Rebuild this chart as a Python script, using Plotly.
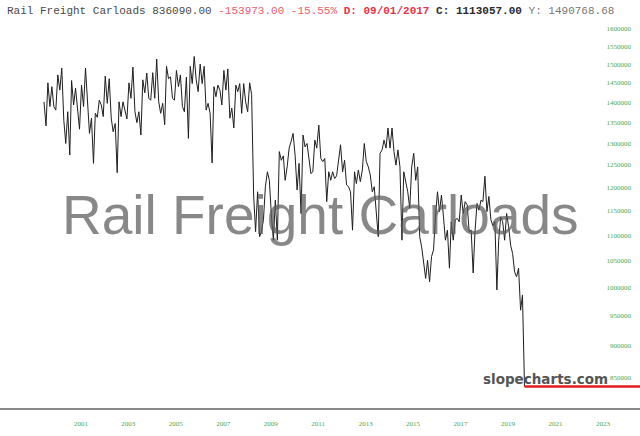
import pandas as pd
import plotly.graph_objects as go

# Monthly rail freight carloads (thousands), Jan 2000 .. Apr 2020
carloads_2000_2008 = [
    1401, 1341, 1450, 1389, 1440, 1389, 1380, 1471, 1431, 1489, 1355, 1299,
    1376, 1272, 1456, 1393, 1436, 1376, 1333, 1444, 1389, 1489, 1389, 1323,
    1360, 1253, 1372, 1362, 1405, 1393, 1364, 1468, 1397, 1461, 1360, 1327,
    1347, 1232, 1401, 1364, 1401, 1376, 1358, 1450, 1410, 1492, 1376, 1349,
    1376, 1319, 1458, 1424, 1476, 1410, 1405, 1477, 1410, 1514, 1401, 1372,
    1397, 1344, 1494, 1461, 1466, 1410, 1405, 1483, 1440, 1471, 1389, 1376,
    1465, 1311, 1494, 1448, 1521, 1458, 1427, 1500, 1448, 1494, 1380, 1397,
    1372, 1254, 1440, 1414, 1444, 1431, 1393, 1483, 1431, 1487, 1360, 1385,
    1336, 1444, 1427, 1448, 1372, 1448, 1401, 1376, 1450, 1420,
]
carloads_2008_2015 = [
    1183, 1107, 1190, 1097, 1107, 1131, 1201, 1234, 1215, 1141,
    1090, 1172, 1090, 1280, 1260, 1270, 1215, 1245, 1288, 1304,
    1323, 1272, 1194, 1253, 1144, 1319, 1291, 1299, 1262, 1230,
    1234, 1307, 1288, 1343, 1264, 1257, 1264, 1169, 1234, 1215,
    1234, 1219, 1225, 1260, 1296, 1234, 1260, 1205, 1201, 1190, 1110,
    1234, 1208, 1238, 1212, 1238, 1299, 1257, 1245, 1227, 1190,
    1201, 1150, 1097, 1276, 1284, 1307, 1288, 1336, 1288, 1336,
    1280, 1249, 1284, 1245, 1090, 1234, 1208, 1190, 1155, 1245,
    1276, 1215, 1245, 1097, 1077, 1040,
]
carloads_2015_2020 = [
    1017, 1051, 1011, 1058, 1071, 1137, 1190, 1148, 1183, 1137,
    1090, 1110, 1036, 1127, 1090, 1131, 1134, 1127, 1183, 1144,
    1169, 1162, 1107, 1110, 1027, 1107, 1165, 1151, 1172, 1169,
    1224, 1148, 1180, 1131, 1119, 1127, 996, 1090, 1137, 1127,
    1090, 1144, 1117, 1080, 1064, 1029, 1020, 1036, 960, 987,
    836.09,
]
values = [v * 1000 for v in carloads_2000_2008 + carloads_2008_2015 + carloads_2015_2020]
dates = pd.date_range("2000-01-01", periods=len(values), freq="MS")

y_tick_vals = [850000, 900000, 950000, 1000000, 1050000, 1100000, 1150000, 1200000,
               1250000, 1300000, 1350000, 1400000, 1450000, 1500000, 1550000, 1600000]
y_tick_text = [str(v) for v in y_tick_vals]
x_tick_years = [2001, 2003, 2005, 2007, 2009, 2011, 2013, 2015, 2017, 2019, 2021, 2023]
x_tick_vals = [f"{y}-07-22" for y in x_tick_years]
x_tick_text = [str(y) for y in x_tick_years]

x_range = ["1998-02-23", "2025-02-12"]
y_range = [5.905238, 6.210870]

title_html = (
    '<span style="color:#4a4a4a">Rail Freight Carloads 836090.00 </span>'
    '<span style="color:#ec5c70">-153973.00 -15.55% </span>'
    '<span style="color:#e3334c"><b>D: 09/01/2017</b> </span>'
    '<span style="color:#2a2a2a"><b>C: 1113057.00</b> </span>'
    '<span style="color:#777777">Y: 1490768.68</span>'
)

fig = go.Figure()
fig.add_trace(go.Scatter(
    x=dates, y=values, mode="lines",
    line=dict(color="#1e1e1e", width=1), hoverinfo="skip", showlegend=False,
))
fig.add_trace(go.Scatter(
    x=[dates[-1], x_range[1]], y=[values[-1], values[-1]], mode="lines",
    line=dict(color="#e11d1d", width=2.5), hoverinfo="skip", showlegend=False,
))

fig.update_layout(
    width=640, height=436,
    margin=dict(l=0, r=0, t=20, b=28),
    paper_bgcolor="white", plot_bgcolor="white",
    title=dict(text=title_html, x=7 / 640, xanchor="left", xref="container",
               y=1 - 10 / 436, yanchor="middle", yref="container",
               font=dict(family="Liberation Mono", size=11)),
    xaxis=dict(type="date", range=x_range, showgrid=False, zeroline=False,
               showline=True, linecolor="#8a8a8a", linewidth=2,
               tickmode="array", tickvals=x_tick_vals, ticktext=x_tick_text,
               ticks="", ticklabelstandoff=8,
               tickfont=dict(family="Liberation Serif", size=7, color="#4fa64f")),
    yaxis=dict(type="log", range=y_range, side="right", showgrid=False,
               zeroline=False, showline=False,
               tickmode="array", tickvals=y_tick_vals, ticktext=y_tick_text,
               ticks="", ticklabelposition="inside", ticklabelstandoff=6,
               tickfont=dict(family="Liberation Serif", size=7, color="#4fa64f")),
    annotations=[
        dict(text="Rail Freight Carloads", x=320 / 640, y=(408 - 215) / 388,
             xref="paper", yref="paper", showarrow=False, xanchor="center",
             yanchor="middle",
             font=dict(family="Liberation Sans", size=55, color="rgba(90,90,90,0.72)")),
        dict(text="<b>slopecharts.com</b>", x=545 / 640, y=(408 - 379) / 388,
             xref="paper", yref="paper", showarrow=False, xanchor="center",
             yanchor="middle",
             font=dict(family="DejaVu Sans", size=13.5, color="#555555")),
    ],
    hovermode=False,
)

fig.write_html("out.html", config={"displayModeBar": False},
               post_script="document.body.style.margin='0';")
